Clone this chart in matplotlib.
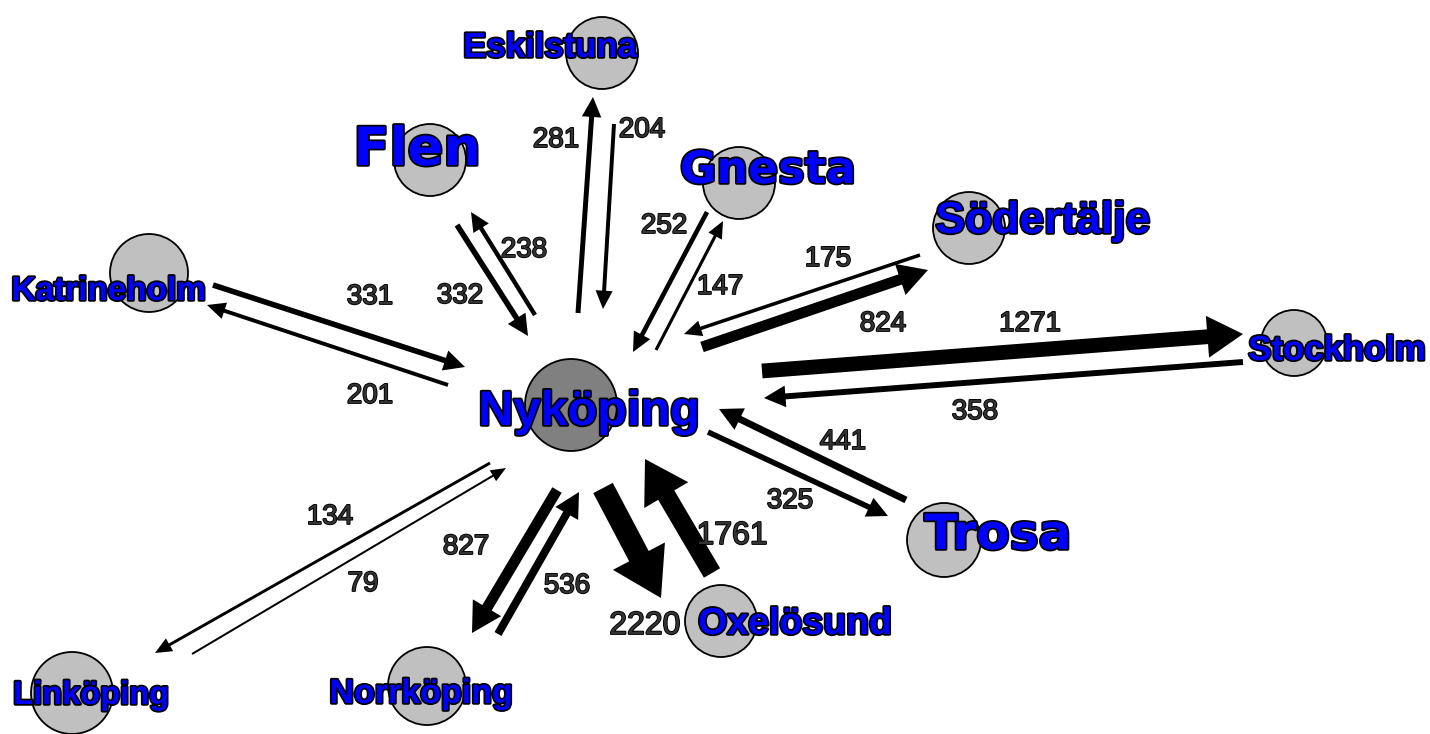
import numpy as np
import matplotlib.pyplot as plt
import matplotlib.patheffects as pe
from matplotlib.patches import Circle, FancyArrow

# commuter flows to and from Nyköping
hub = 'Nyköping'
cities = ['Eskilstuna', 'Flen', 'Gnesta', 'Södertälje', 'Stockholm',
          'Trosa', 'Oxelösund', 'Norrköping', 'Linköping', 'Katrineholm']
flow_out = [281, 238, 147, 824, 1271, 325, 2220, 827, 134, 201]  # Nyköping -> city
flow_in = [204, 332, 252, 175, 358, 441, 1761, 536, 79, 331]     # city -> Nyköping

# ---- layout (pixel coordinates, y downwards) ----
normal = ['Liberation Sans', 'DejaVu Sans']
wide = ['DejaVu Sans']

# circle centre x, y, radius
nodes = {
    'Nyköping': (571, 405, 46),
    'Eskilstuna': (602, 53, 36),
    'Flen': (430, 160, 36),
    'Gnesta': (739, 183, 36),
    'Södertälje': (969, 228, 36),
    'Stockholm': (1294, 343, 33),
    'Trosa': (944, 540, 37),
    'Oxelösund': (721, 621, 36),
    'Norrköping': (427, 686, 39),
    'Linköping': (72, 693, 41),
    'Katrineholm': (149, 273, 39),
}

# name label: x centre, baseline y, font size, family
names = {
    'Nyköping': (589, 425, 35, normal),
    'Eskilstuna': (550, 57, 25, normal),
    'Flen': (417, 165, 38, wide),
    'Gnesta': (768, 183, 32, wide),
    'Södertälje': (1043, 233, 32, normal),
    'Stockholm': (1337, 360, 25, normal),
    'Trosa': (998, 549, 35, wide),
    'Oxelösund': (795, 634, 27, normal),
    'Norrköping': (421, 703, 24.5, normal),
    'Linköping': (91, 704, 23.5, normal),
    'Katrineholm': (109, 300, 24, normal),
}

# arrow start, arrow tip, label (x, baseline y)
out_geom = {
    'Eskilstuna': ((578, 313), (593, 97), (556, 147)),
    'Flen': ((535, 315), (471, 212), (524, 257)),
    'Gnesta': ((656, 350), (723, 221), (720, 294)),
    'Södertälje': ((702, 347), (928, 270), (883, 331)),
    'Stockholm': ((762, 371), (1243, 334), (1030, 331)),
    'Trosa': ((708, 432), (888, 516), (790, 508)),
    'Oxelösund': ((603, 488), (661, 598), (645, 634)),
    'Norrköping': ((557, 490), (472, 633), (466, 554)),
    'Linköping': ((490, 463), (155, 653), (330, 524)),
    'Katrineholm': ((448, 385), (207, 305), (370, 403)),
}
in_geom = {
    'Eskilstuna': ((614, 124), (603, 309), (642, 137)),
    'Flen': ((457, 225), (528, 336), (460, 303)),
    'Gnesta': ((707, 212), (633, 352), (664, 233)),
    'Södertälje': ((920, 255), (684, 334), (828, 266)),
    'Stockholm': ((1243, 362), (764, 398), (975, 419)),
    'Trosa': ((906, 500), (719, 409), (843, 449)),
    'Oxelösund': ((712, 573), (645, 459), (732, 544)),
    'Norrköping': ((498, 634), (579, 492), (567, 593)),
    'Linköping': ((192, 654), (506, 468), (363, 591)),
    'Katrineholm': ((213, 285), (465, 367), (370, 304)),
}


def shaft_width(v):
    return 0.086 * v ** 0.72


fig = plt.figure(figsize=(14.3, 7.34), dpi=100)
ax = fig.add_axes([0, 0, 1, 1])
ax.set_xlim(0, 1430)
ax.set_ylim(734, 0)
ax.axis('off')

# circles
for name, (cx, cy, r) in nodes.items():
    fc = '#808080' if name == hub else '#C0C0C0'
    ax.add_patch(Circle((cx, cy), r, facecolor=fc, edgecolor='black',
                        linewidth=1.3, zorder=1))

# arrows + values
num_fx = [pe.withStroke(linewidth=1.3, foreground='black')]
for city, v_out, v_in in zip(cities, flow_out, flow_in):
    for v, geom in ((v_out, out_geom[city]), (v_in, in_geom[city])):
        (x0, y0), (x1, y1), (lx, ly) = geom
        w = shaft_width(v)
        ax.add_patch(FancyArrow(x0, y0, x1 - x0, y1 - y0, width=w,
                                head_width=2.3 * w + 8, head_length=1.6 * w + 12,
                                length_includes_head=True, color='black',
                                linewidth=0, zorder=3))
        fs = 23 if v > 1500 else 20
        ax.text(lx, ly, str(v), ha='center', va='baseline', fontsize=fs,
                family=normal, color='#333333', path_effects=num_fx, zorder=4)

# place names
name_fx = [pe.withStroke(linewidth=2.5, foreground='black')]
for name, (x, y, fs, fam) in names.items():
    ax.text(x, y, name, ha='center', va='baseline', fontsize=fs,
            fontweight='bold', family=fam, color='#0000FF',
            path_effects=name_fx, zorder=5)

fig.savefig('out.png', dpi=100, facecolor='white')
